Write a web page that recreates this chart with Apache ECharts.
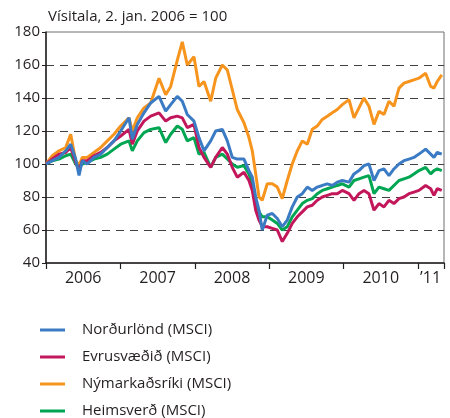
<!DOCTYPE html>
<html>
<head>
<meta charset="utf-8">
<script src="https://cdn.jsdelivr.net/npm/echarts@6/dist/echarts.min.js"></script>
<style>
  html, body { margin: 0; padding: 0; background: #fff; }
  #chart { width: 450px; height: 418px; }
</style>
</head>
<body>
<div id="chart"></div>
<script>
// tími sem brot úr ári (2. jan. 2006 = 2006.0)
const timeline = [
  2006.000, 2006.085, 2006.175, 2006.265, 2006.332, 2006.399, 2006.444, 2006.488, 2006.555, 2006.645,
  2006.735, 2006.824, 2006.914, 2007.004, 2007.116, 2007.160, 2007.227, 2007.317, 2007.407, 2007.519,
  2007.609, 2007.676, 2007.765, 2007.832, 2007.899, 2007.989, 2008.056, 2008.124, 2008.214, 2008.281,
  2008.370, 2008.437, 2008.504, 2008.571, 2008.661, 2008.728, 2008.773, 2008.819, 2008.863, 2008.907,
  2008.974, 2009.042, 2009.109, 2009.176, 2009.243, 2009.310, 2009.378, 2009.445, 2009.512, 2009.579,
  2009.646, 2009.714, 2009.781, 2009.848, 2009.915, 2009.983, 2010.073, 2010.140, 2010.207, 2010.274,
  2010.341, 2010.409, 2010.476, 2010.543, 2010.610, 2010.677, 2010.745, 2010.812, 2010.879, 2010.946,
  2011.013, 2011.103, 2011.171, 2011.215, 2011.259, 2011.320
]

const nordurlond = [
  100, 102, 104, 108, 112, 103, 93, 102, 100, 104,
  106, 110, 114, 120, 128, 115, 124, 131, 137, 141,
  132, 136, 141, 138, 130, 126, 116, 108, 114, 120,
  121, 114, 104, 103, 103, 96, 92, 80, 72, 60,
  69, 70, 67, 62, 66, 74, 80, 82, 86, 84,
  86, 87, 88, 87, 89, 90, 89, 94, 96, 99,
  100, 90, 96, 97, 93, 97, 100, 102, 103, 104,
  106, 109, 106, 104, 107, 106
]

const evrusvaedid = [
  100, 103, 106, 107, 110, 101, 96, 102, 102, 105,
  107, 110, 114, 117, 121, 112, 120, 126, 129, 131,
  126, 128, 129, 128, 122, 124, 110, 104, 98, 104,
  110, 106, 98, 92, 95, 90, 84, 72, 66, 62,
  62, 61, 60, 53, 58, 64, 68, 71, 74, 75,
  78, 80, 81, 82, 82, 84, 82, 78, 82, 84,
  82, 72, 76, 74, 78, 76, 79, 80, 82, 83,
  84, 87, 85, 81, 85, 84
]

const nymarkadsriki = [
  100, 105, 108, 110, 118, 102, 99, 104, 104, 107,
  110, 114, 118, 123, 128, 120, 128, 134, 137, 152,
  142, 147, 163, 174, 160, 165, 147, 150, 138, 152,
  160, 157, 145, 133, 125, 116, 108, 94, 80, 78,
  88, 88, 86, 79, 90, 100, 108, 114, 112, 121,
  123, 127, 129, 131, 133, 136, 139, 128, 134, 140,
  135, 124, 132, 130, 138, 135, 146, 149, 150, 151,
  152, 155, 147, 146, 150, 154
]

const heimsverd = [
  100, 102, 103, 105, 106, 100, 98, 100, 101, 103,
  104, 106, 109, 112, 114, 108, 114, 119, 121, 122,
  113, 118, 123, 121, 114, 116, 106, 107, 98, 104,
  106, 103, 100, 98, 99, 94, 88, 76, 71, 68,
  68, 66, 64, 60, 62, 68, 72, 76, 78, 79,
  82, 84, 85, 86, 87, 88, 86, 90, 91, 92,
  93, 82, 86, 85, 84, 87, 90, 91, 92, 94,
  96, 98, 94, 96, 97, 96
]

const yearTicks = [2006, 2007, 2008, 2009, 2010, 2011, 2011.35]
const yearLabelPos = [2006.5, 2007.5, 2008.5, 2009.5, 2010.5, 2011.17]

const fontFamily = 'Open Sans'

function pair(values) {
  return values.map((v, i) => [timeline[i], v])
}

function lineSeries(name, values, color) {
  return {
    name: name,
    type: 'line',
    data: pair(values),
    showSymbol: false,
    symbol: 'none',
    lineStyle: { color: color, width: 3 },
    itemStyle: { color: color },
    animation: false
  }
}

const chart = echarts.init(document.getElementById('chart'))

chart.setOption({
  backgroundColor: '#fff',
  title: {
    text: 'Vísitala, 2. jan. 2006 = 100',
    left: 43,
    top: 4,
    textStyle: { fontFamily: fontFamily, fontSize: 15, fontWeight: 'normal', color: '#231f20' }
  },
  legend: {
    orient: 'vertical',
    left: 40,
    top: 322,
    height: 120,
    padding: 0,
    icon: 'rect',
    itemWidth: 25,
    itemHeight: 3,
    itemGap: 11,
    data: ['Norðurlönd (MSCI)', 'Evrusvæðið (MSCI)', 'Nýmarkaðsríki (MSCI)', 'Heimsverð (MSCI)'],
    textStyle: { fontFamily: fontFamily, fontSize: 15, color: '#231f20', lineHeight: 16, padding: [0, 0, 0, 12] }
  },
  grid: {
    left: 46,
    right: 6,
    top: 32,
    bottom: 155,
    show: true,
    borderColor: '#6d6e71',
    borderWidth: 1
  },
  xAxis: {
    type: 'value',
    min: 2006,
    max: 2011.35,
    axisLine: { lineStyle: { color: '#231f20', width: 1.5 } },
    axisTick: { customValues: yearTicks, length: 6, lineStyle: { color: '#231f20', width: 1.2 } },
    axisLabel: {
      customValues: yearLabelPos,
      formatter: v => v >= 2011 ? '\u201911' : String(Math.floor(v)),
      fontFamily: fontFamily,
      fontSize: 16,
      color: '#231f20',
      margin: 7
    },
    splitLine: { show: false }
  },
  yAxis: {
    type: 'value',
    min: 40,
    max: 180,
    interval: 20,
    axisLine: { show: true, lineStyle: { color: '#231f20', width: 1.5 } },
    axisTick: { show: true, length: 4, lineStyle: { color: '#231f20' } },
    axisLabel: { fontFamily: fontFamily, fontSize: 15, color: '#231f20', margin: 6 },
    splitLine: {
      show: true,
      showMinLine: false,
      showMaxLine: false,
      lineStyle: { color: '#414042', type: [8, 6], width: 1.2 }
    }
  },
  series: [
    lineSeries('Nýmarkaðsríki (MSCI)', nymarkadsriki, '#f7941d'),
    lineSeries('Heimsverð (MSCI)', heimsverd, '#00a651'),
    lineSeries('Evrusvæðið (MSCI)', evrusvaedid, '#c2185b'),
    lineSeries('Norðurlönd (MSCI)', nordurlond, '#3b7bc4')
  ]
})
</script>
</body>
</html>
